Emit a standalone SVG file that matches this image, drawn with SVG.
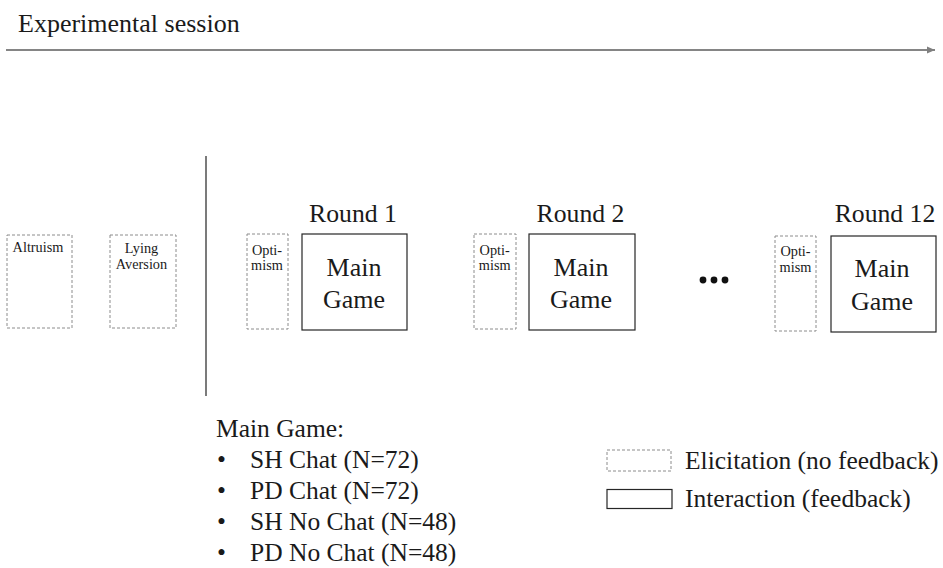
<svg xmlns="http://www.w3.org/2000/svg" width="943" height="568" viewBox="0 0 943 568" font-family="'Liberation Serif', 'DejaVu Serif', serif">
<style>
text{font-family:'Liberation Serif','DejaVu Serif',serif;fill:#1a1a1a}
.dash{fill:#fff;stroke:#8c8c8c;stroke-width:1;stroke-dasharray:3 2}
.solid{fill:#fff;stroke:#262626;stroke-width:1.2}
.sm{font-size:14.3px;text-anchor:middle}
.rd{font-size:25.7px;text-anchor:middle}
.mg{font-size:26px;text-anchor:middle}
.lg{font-size:25.5px}
</style>
<defs>
<marker id="ah" markerWidth="10" markerHeight="10" refX="8" refY="5" orient="auto" markerUnits="userSpaceOnUse">
<path d="M0,1.5 L8,5 L0,8.5 Z" fill="#7f7f7f"/>
</marker>
</defs>
<rect width="943" height="568" fill="#fff"/>
<text x="18" y="32" style="font-size:26px">Experimental session</text>
<g id="connectors">
<line x1="6" y1="50" x2="935" y2="50" stroke="#858585" stroke-width="2.2" marker-end="url(#ah)"/>
<line x1="206" y1="156" x2="206" y2="396" stroke="#5a5a5a" stroke-width="1.6"/>
</g>
<g id="altruism"><rect class="dash" x="7" y="235" width="65" height="93"/><text class="sm" x="38" y="252">Altruism</text></g>
<g id="lying"><rect class="dash" x="110" y="235" width="66" height="93"/><text class="sm" x="141.5" y="253">Lying</text><text class="sm" x="141.5" y="269">Aversion</text></g>
<g id="round1">
<text class="rd" x="353" y="222">Round 1</text>
<rect class="dash" x="247" y="234" width="41" height="95"/><text class="sm" x="267" y="255">Opti-</text><text class="sm" x="267" y="270">mism</text>
<rect class="solid" x="302" y="234" width="105" height="96"/><text class="mg" x="354" y="276">Main</text><text class="mg" x="354" y="308">Game</text>
</g>
<g id="round2">
<text class="rd" x="580.5" y="222">Round 2</text>
<rect class="dash" x="474" y="234" width="42" height="95"/><text class="sm" x="494.7" y="255">Opti-</text><text class="sm" x="494.7" y="270">mism</text>
<rect class="solid" x="529" y="234" width="106" height="96"/><text class="mg" x="581" y="276">Main</text><text class="mg" x="581" y="308">Game</text>
</g>
<g id="dots"><circle cx="703" cy="280" r="3.4" fill="#111"/><circle cx="714" cy="280" r="3.4" fill="#111"/><circle cx="725" cy="280" r="3.4" fill="#111"/></g>
<g id="round12">
<text class="rd" x="885" y="222">Round 12</text>
<rect class="dash" x="775" y="236" width="41" height="95"/><text class="sm" x="795.5" y="256">Opti-</text><text class="sm" x="795.5" y="272">mism</text>
<rect class="solid" x="831" y="236" width="105" height="96"/><text class="mg" x="882" y="277">Main</text><text class="mg" x="882" y="310">Game</text>
</g>
<g id="conditions">
<text class="lg" x="216" y="437">Main Game:</text>
<text class="lg" x="217" y="468">•</text><text class="lg" x="250" y="468">SH Chat (N=72)</text>
<text class="lg" x="217" y="499">•</text><text class="lg" x="250" y="499">PD Chat (N=72)</text>
<text class="lg" x="217" y="530">•</text><text class="lg" x="250" y="530">SH No Chat (N=48)</text>
<text class="lg" x="217" y="561">•</text><text class="lg" x="250" y="561">PD No Chat (N=48)</text>
</g>
<g id="legend">
<rect class="dash" x="607" y="450" width="64" height="21"/><text class="lg" x="685" y="469">Elicitation (no feedback)</text>
<rect class="solid" x="607" y="489.5" width="65" height="19"/><text class="lg" x="685" y="506.5">Interaction (feedback)</text>
</g>
</svg>
